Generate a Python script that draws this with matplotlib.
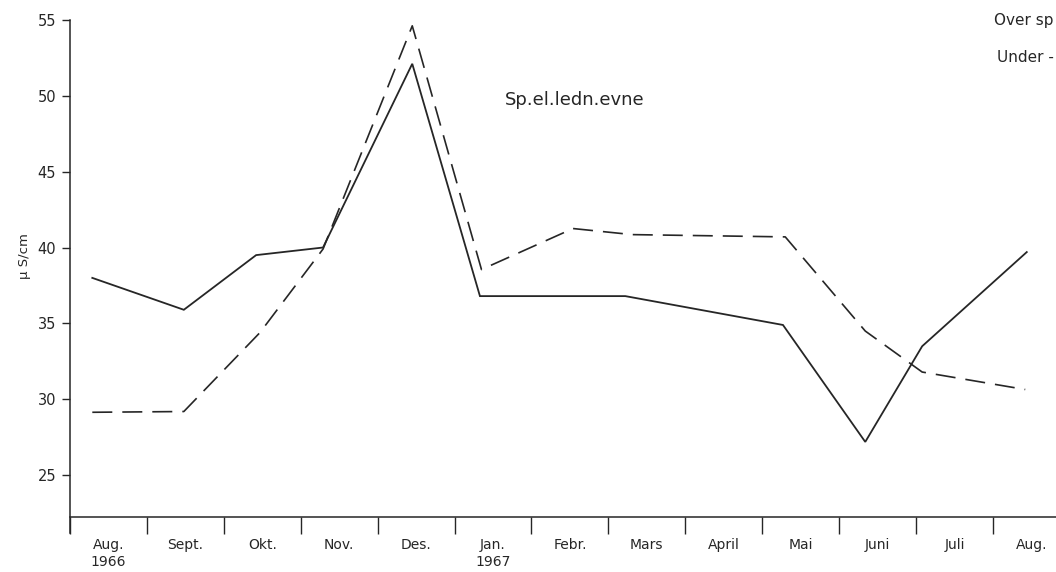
import numpy as np
import matplotlib.pyplot as plt
import matplotlib.transforms as mtransforms

# month axis: 0 = start of Aug 1966, one unit per month
months = ["Aug.", "Sept.", "Okt.", "Nov.", "Des.", "Jan.", "Febr.", "Mars",
          "April", "Mai", "Juni", "Juli", "Aug."]
years = {0: "1966", 5: "1967"}

# over the thermocline (solid)
over_t = [0.29, 1.48, 2.42, 3.29, 4.45, 5.33, 6.54, 7.22, 9.27, 10.34, 11.08, 12.44]
over_v = [38.0, 35.9, 39.5, 40.0, 52.1, 36.8, 36.8, 36.8, 34.9, 27.2, 33.5, 39.7]

# under the thermocline (dashed)
under_t = [0.29, 1.48, 2.47, 3.29, 4.45, 5.35, 6.54, 7.31, 9.30, 10.34, 11.08, 12.42]
under_v = [29.15, 29.2, 34.4, 39.9, 54.6, 38.55, 41.25, 40.85, 40.7, 34.5, 31.8, 30.65]

ink = "#262626"
plt.rcParams['font.family'] = ['DejaVu Sans']

fig = plt.figure(figsize=(10.56, 5.72), dpi=100)
ax = fig.add_axes([70 / 1056, 1 - 533 / 572, 1 - 70 / 1056, 533 / 572])

ax.plot(over_t, over_v, color=ink, lw=1.3, solid_joinstyle='miter')
ax.plot(under_t, under_v, color=ink, lw=1.2, dashes=(12, 6))

ax.set_xlim(0, 12.82)
ax.set_ylim(21.2, 56.3)

for s in ['top', 'right']:
    ax.spines[s].set_visible(False)
ax.spines['left'].set_bounds(21.2, 55)
ax.spines['bottom'].set_position(('data', 22.25))
for s in ['left', 'bottom']:
    ax.spines[s].set_color(ink)
    ax.spines[s].set_linewidth(1.1)

ax.set_yticks(np.arange(25, 56, 5))
ax.tick_params(axis='y', length=6, width=1, color=ink, labelsize=10.5,
               labelcolor=ink, pad=4)

ax.set_xticks(np.arange(0, 13))
ax.set_xticklabels([])
ax.tick_params(axis='x', which='major', direction='out', length=12, width=1, color=ink)

ax.set_xticks(np.arange(13) + 0.5, minor=True)
ax.set_xticklabels(months, minor=True, fontsize=10, color=ink)
ax.tick_params(axis='x', which='minor', length=0, pad=15)

# year under first month of each year
trans = mtransforms.blended_transform_factory(ax.transData, fig.transFigure)
for i, y in years.items():
    ax.text(i + 0.5, 1 - 562 / 572, y, transform=trans, fontsize=10, color=ink,
            ha='center', va='center')

ax.set_ylabel("µ S/cm", fontsize=9.5, color=ink)
ax.yaxis.set_label_coords(-0.04, 0.52)

fig.text(505 / 1056, 1 - 100 / 572, "Sp.el.ledn.evne", fontsize=13,
         color=ink, va='center')
fig.text(1054 / 1056, 1 - 20 / 572, "Over sp", fontsize=11, color=ink,
         va='center', ha='right')
fig.text(1054 / 1056, 1 - 57 / 572, "Under -", fontsize=11, color=ink,
         va='center', ha='right')

fig.savefig("out.png", dpi=100)
